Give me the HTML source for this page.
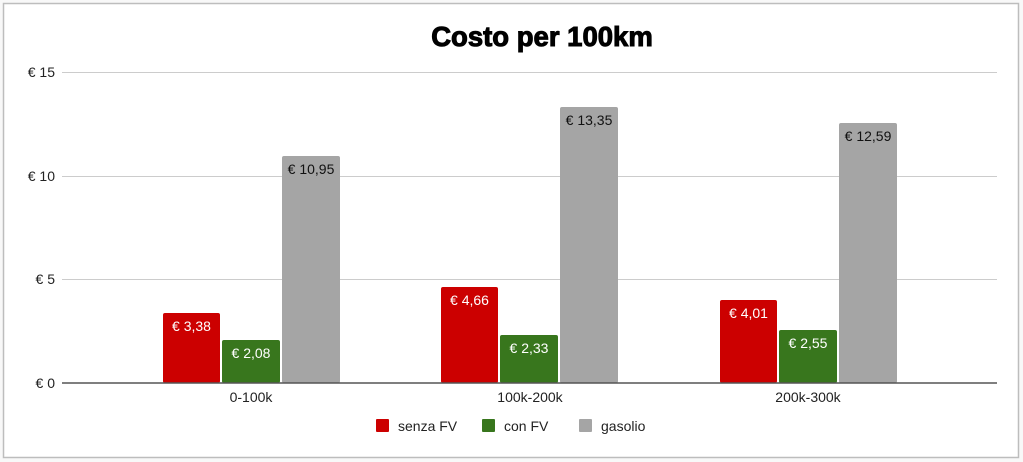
<!DOCTYPE html>
<html><head><meta charset="utf-8"><style>
body{margin:0;background:#fff;}
svg{display:block;font-family:"Liberation Sans",Arial,sans-serif;}
</style></head><body>
<svg width="1023" height="462" xmlns="http://www.w3.org/2000/svg">
<rect x="0" y="0" width="1023" height="462" fill="#f8f8f8"/>
<rect x="3.5" y="3.5" width="1015" height="454" fill="#fff" stroke="#bdbdbd" stroke-width="1.5"/>
<text x="542" y="46" text-anchor="middle" font-size="27.5" font-weight="bold" fill="#000" stroke="#000" stroke-width="1">Costo per 100km</text>
<g stroke="#cccccc" stroke-width="1">
<line x1="62" y1="72.5" x2="997" y2="72.5"/>
<line x1="62" y1="176.5" x2="997" y2="176.5"/>
<line x1="62" y1="279.5" x2="997" y2="279.5"/>
</g>
<g font-size="14" fill="#222" text-anchor="end">
<text x="55" y="77">€ 15</text>
<text x="55" y="181">€ 10</text>
<text x="55" y="284">€ 5</text>
<text x="55" y="388">€ 0</text>
</g>
<g font-size="14" text-anchor="middle">
<rect x="163" y="313" width="57" height="70" rx="2" fill="#cc0000"/>
<text x="191.5" y="331" fill="#fff">€ 3,38</text>
<rect x="222" y="340" width="58" height="43" rx="2" fill="#38761d"/>
<text x="251" y="358" fill="#fff">€ 2,08</text>
<rect x="282" y="156" width="58" height="227" rx="2" fill="#a5a5a5"/>
<text x="311" y="174" fill="#111">€ 10,95</text>

<rect x="441" y="287" width="57" height="96" rx="2" fill="#cc0000"/>
<text x="469.5" y="305" fill="#fff">€ 4,66</text>
<rect x="500" y="335" width="58" height="48" rx="2" fill="#38761d"/>
<text x="529" y="353" fill="#fff">€ 2,33</text>
<rect x="560" y="107" width="58" height="276" rx="2" fill="#a5a5a5"/>
<text x="589" y="125" fill="#111">€ 13,35</text>

<rect x="720" y="300" width="57" height="83" rx="2" fill="#cc0000"/>
<text x="748.5" y="318" fill="#fff">€ 4,01</text>
<rect x="779" y="330" width="58" height="53" rx="2" fill="#38761d"/>
<text x="808" y="348" fill="#fff">€ 2,55</text>
<rect x="839" y="123" width="58" height="260" rx="2" fill="#a5a5a5"/>
<text x="868" y="141" fill="#111">€ 12,59</text>
</g>
<line x1="62" y1="383" x2="997" y2="383" stroke="#555" stroke-width="1.5"/>
<g font-size="14" fill="#222" text-anchor="middle">
<text x="251" y="402">0-100k</text>
<text x="530" y="402">100k-200k</text>
<text x="808" y="402">200k-300k</text>
</g>
<g font-size="14" fill="#222">
<rect x="376" y="419" width="13" height="13" rx="1" fill="#cc0000"/>
<text x="398" y="431">senza FV</text>
<rect x="482" y="419" width="13" height="13" rx="1" fill="#38761d"/>
<text x="504" y="431">con FV</text>
<rect x="579" y="419" width="13" height="13" rx="1" fill="#a5a5a5"/>
<text x="601" y="431">gasolio</text>
</g>
</svg>
</body></html>
